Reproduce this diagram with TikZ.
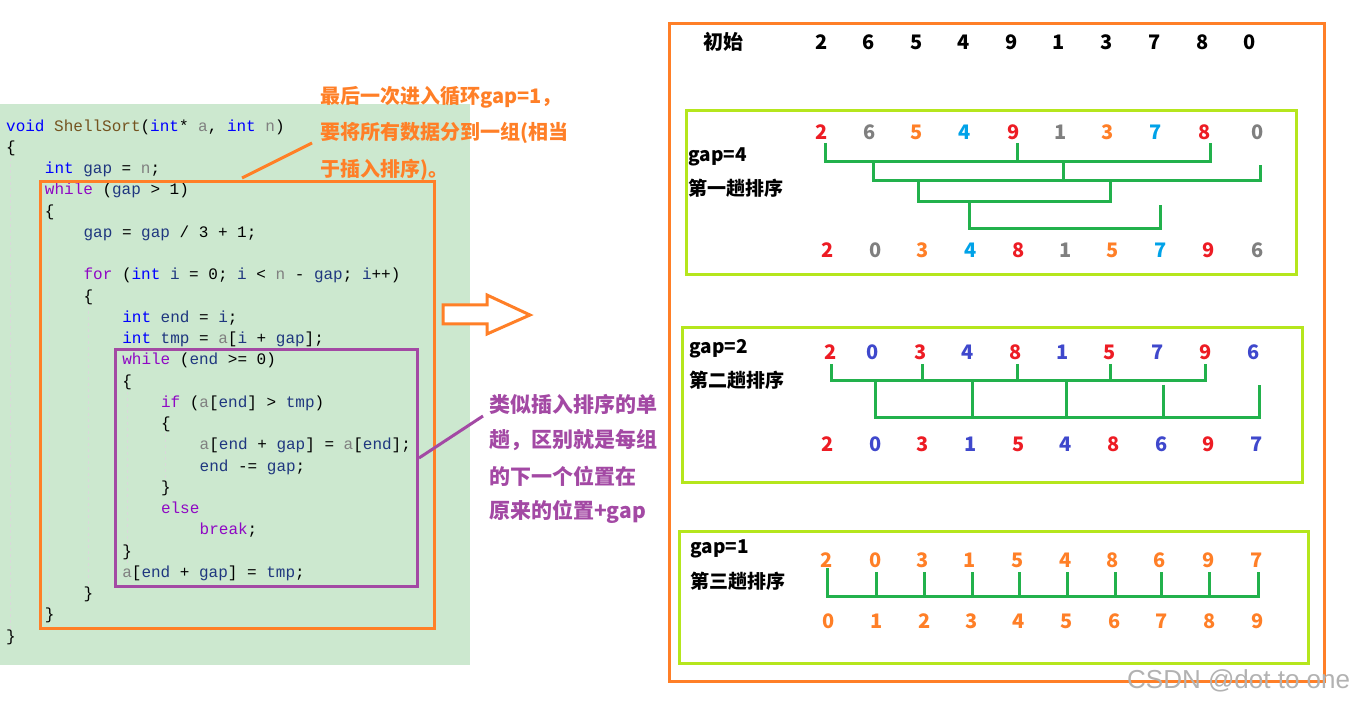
\documentclass[tikz,border=0pt]{standalone}
\usepackage{fontspec}
\newfontfamily\cjk{Noto Sans CJK SC}
\newfontfamily\codefont{Liberation Mono}
\newfontfamily\wmfont{Liberation Sans}
\definecolor{corange}{HTML}{FF7F27}
\definecolor{cpurple}{HTML}{A349A4}
\definecolor{clime}{HTML}{B5E61D}
\definecolor{cgreen}{HTML}{22B14C}
\definecolor{cred}{HTML}{ED1C24}
\definecolor{cgray}{HTML}{7F7F7F}
\definecolor{cblue}{HTML}{00A2E8}
\definecolor{cindigo}{HTML}{3F48CC}
\definecolor{codebg}{HTML}{CCE8CF}
\definecolor{kwblue}{HTML}{0000FF}
\definecolor{kwpurple}{HTML}{8F08C4}
\definecolor{fncol}{HTML}{74531F}
\definecolor{varcol}{HTML}{1F377F}
\definecolor{parcol}{HTML}{808080}
\newcommand{\Ckw}[1]{\textcolor{kwblue}{#1}}
\newcommand{\Cct}[1]{\textcolor{kwpurple}{#1}}
\newcommand{\Cfn}[1]{\textcolor{fncol}{#1}}
\newcommand{\Cva}[1]{\textcolor{varcol}{#1}}
\newcommand{\Cpa}[1]{\textcolor{parcol}{#1}}
\tikzset{
  code/.style={font=\codefont\fontsize{16}{16}\selectfont, anchor=mid west, inner sep=0pt, text=black},
  num/.style={font=\cjk\bfseries\fontsize{20}{20}\selectfont, inner sep=0pt, anchor=center},
  lbl/.style={font=\cjk\bfseries\fontsize{19}{19}\selectfont, anchor=west, inner sep=0pt},
  note/.style={font=\cjk\bfseries\fontsize{20}{20}\selectfont, anchor=west, inner sep=0pt},
  pnote/.style={font=\cjk\bfseries\fontsize{21}{21}\selectfont, anchor=west, inner sep=0pt, text=cpurple},
  br/.style={draw=cgreen, line width=3pt},
  limebox/.style={draw=clime, line width=3pt},
  guide/.style={draw=black!15, dashed, line width=1pt},
}
\begin{document}
\begin{tikzpicture}[x=1pt,y=-1pt]
\useasboundingbox (0,0) rectangle (1353,703);
% code background
\fill[codebg] (0,104) rectangle (470,665);
% indent guides
\draw[guide] (10,152) -- (10,630);
\draw[guide] (49,220) -- (49,608);
\draw[guide] (88,305) -- (88,588);
\draw[guide] (127,392) -- (127,566);
\draw[guide] (165,433) -- (165,481);
% code lines
\begin{scope}[yshift=-4pt]
\node[code] (l1) at (6,125) {\Ckw{void} \Cfn{ShellSort}(\Ckw{int}* \Cpa{a}, \Ckw{int} \Cpa{n})};
\node[code] (l2) at (6,146.25) {\{};
\node[code] (l3) at (44.7,167.5) {\Ckw{int} \Cva{gap} = \Cpa{n};};
\node[code] (l4) at (44.7,188.75) {\Cct{while} (\Cva{gap} > 1)};
\node[code] (l5) at (44.7,210) {\{};
\node[code] (l6) at (83.4,231.25) {\Cva{gap} = \Cva{gap} / 3 + 1;};
\node[code] (l8) at (83.4,273.75) {\Cct{for} (\Ckw{int} \Cva{i} = 0; \Cva{i} < \Cpa{n} - \Cva{gap}; \Cva{i}++)};
\node[code] (l9) at (83.4,295) {\{};
\node[code] (l10) at (122.1,316.25) {\Ckw{int} \Cva{end} = \Cva{i};};
\node[code] (l11) at (122.1,337.5) {\Ckw{int} \Cva{tmp} = \Cpa{a}[\Cva{i} + \Cva{gap}];};
\node[code] (l12) at (122.1,358.75) {\Cct{while} (\Cva{end} >= 0)};
\node[code] (l13) at (122.1,380) {\{};
\node[code] (l14) at (160.8,401.25) {\Cct{if} (\Cpa{a}[\Cva{end}] > \Cva{tmp})};
\node[code] (l15) at (160.8,422.5) {\{};
\node[code] (l16) at (199.5,443.75) {\Cpa{a}[\Cva{end} + \Cva{gap}] = \Cpa{a}[\Cva{end}];};
\node[code] (l17) at (199.5,465) {\Cva{end} -= \Cva{gap};};
\node[code] (l18) at (160.8,486.25) {\}};
\node[code] (l19) at (160.8,507.5) {\Cct{else}};
\node[code] (l20) at (199.5,528.75) {\Cct{break};};
\node[code] (l21) at (122.1,550) {\}};
\node[code] (l22) at (122.1,571.25) {\Cpa{a}[\Cva{end} + \Cva{gap}] = \Cva{tmp};};
\node[code] (l23) at (83.4,592.5) {\}};
\node[code] (l24) at (44.7,613.75) {\}};
\node[code] (l25) at (6,635) {\}};
\end{scope}
% highlight boxes
\draw[corange, line width=3pt] (40,182) rectangle (434,628);
\draw[cpurple, line width=3pt] (115,350) rectangle (417,586);
% annotations
\node[note, text=corange] (n1) at (320,97) {最后一次进入循环gap=1，};
\node[note, text=corange] (n2) at (320,133) {要将所有数据分到一组(相当};
\node[note, text=corange] (n3) at (320,170) {于插入排序)。};
\coordinate (oa) at (242,178);
\coordinate (ob) at (312,143);
\draw[corange, line width=3pt] (oa) -- (ob);
\node[pnote] (p1) at (489,404) {类似插入排序的单};
\node[pnote] (p2) at (489,440) {趟，区别就是每组};
\node[pnote] (p3) at (489,476) {的下一个位置在};
\node[pnote] (p4) at (489,512) {原来的位置+gap};
\coordinate (pa) at (419,458);
\coordinate (pb) at (483,416);
\draw[cpurple, line width=3pt] (pa) -- (pb);
% hollow arrow
\draw[corange, fill=white, line width=3pt] (443,305) -- (487,305) -- (487,295) -- (530,315) -- (487,334) -- (487,324) -- (443,324) -- cycle;
% right panel
\draw[corange, line width=3pt] (669,24) rectangle (1324,681);
\node[num] (init) at (723,42) {初始};
\foreach \x/\v [count=\i] in {822/2,869/6,917/5,964/4,1012/9,1059/1,1107/3,1155/7,1203/8,1250/0}
  \node[num] (i\i) at (\x,42) {\v};
% box 1
\draw[limebox] (686,111) rectangle (1296,275);
\node[lbl] (g1) at (688,157) {gap=4};
\node[lbl] (s1) at (688,188) {第一趟排序};
\foreach \x/\v/\c [count=\i] in {822/2/cred,870/6/cgray,917/5/corange,965/4/cblue,1014/9/cred,1061/1/cgray,1108/3/corange,1156/7/cblue,1205/8/cred,1258/0/cgray}
  \node[num, text=\c] (a\i) at (\x,132) {\v};
\foreach \x/\v/\c [count=\i] in {828/2/cred,876/0/cgray,923/3/corange,971/4/cblue,1019/8/cred,1066/1/cgray,1113/5/corange,1161/7/cblue,1209/9/cred,1258/6/cgray}
  \node[num, text=\c] (b\i) at (\x,250) {\v};
\draw[br] (825,143) -- (825,162) -- (1210,162) -- (1210,143);
\draw[br] (1017,143) -- (1017,162);
\draw[br] (873,162) -- (873,181) -- (1260,181) -- (1260,165);
\draw[br] (1063,162) -- (1063,181);
\draw[br] (918,181) -- (918,202) -- (1110,202) -- (1110,181);
\draw[br] (969,202) -- (969,229) -- (1160,229) -- (1160,205);
% box 2
\draw[limebox] (682,328) rectangle (1302,482);
\node[lbl] (g2) at (689,349) {gap=2};
\node[lbl] (s2) at (689,380) {第二趟排序};
\foreach \x/\v/\c [count=\i] in {831/2/cred,873/0/cindigo,921/3/cred,968/4/cindigo,1016/8/cred,1063/1/cindigo,1110/5/cred,1158/7/cindigo,1206/9/cred,1254/6/cindigo}
  \node[num, text=\c] (c\i) at (\x,352) {\v};
\foreach \x/\v/\c [count=\i] in {828/2/cred,876/0/cindigo,923/3/cred,971/1/cindigo,1019/5/cred,1066/4/cindigo,1114/8/cred,1162/6/cindigo,1209/9/cred,1257/7/cindigo}
  \node[num, text=\c] (d\i) at (\x,444) {\v};
\draw[br] (831,364) -- (831,381) -- (1205,381) -- (1205,364);
\foreach \x in {922,1017,1110} \draw[br] (\x,364) -- (\x,381);
\draw[br] (875,381) -- (875,418) -- (1259,418) -- (1259,385);
\foreach \x in {972,1066} \draw[br] (\x,381) -- (\x,418);
\draw[br] (1163,385) -- (1163,418);
% box 3
\draw[limebox] (679,531) rectangle (1308,663);
\node[lbl] (g3) at (690,549) {gap=1};
\node[lbl] (s3) at (690,581) {第三趟排序};
\foreach \x/\v [count=\i] in {827/2,876/0,923/3,970/1,1018/5,1066/4,1113/8,1160/6,1209/9,1257/7}
  \node[num, text=corange] (e\i) at (\x,560) {\v};
\foreach \x/\v [count=\i] in {829/0,877/1,925/2,972/3,1019/4,1067/5,1115/6,1162/7,1210/8,1258/9}
  \node[num, text=corange] (f\i) at (\x,621) {\v};
\draw[br] (827,568) -- (827,596) -- (1258,596) -- (1258,572);
\foreach \x in {876,924,972,1019,1067,1115,1161,1209} \draw[br] (\x,572) -- (\x,596);
% watermark
\node[anchor=west, inner sep=0pt, text=black!30, font=\wmfont\fontsize{26}{26}\selectfont] (wm) at (1127,681) {CSDN @dot to one};
\end{tikzpicture}
\end{document}
